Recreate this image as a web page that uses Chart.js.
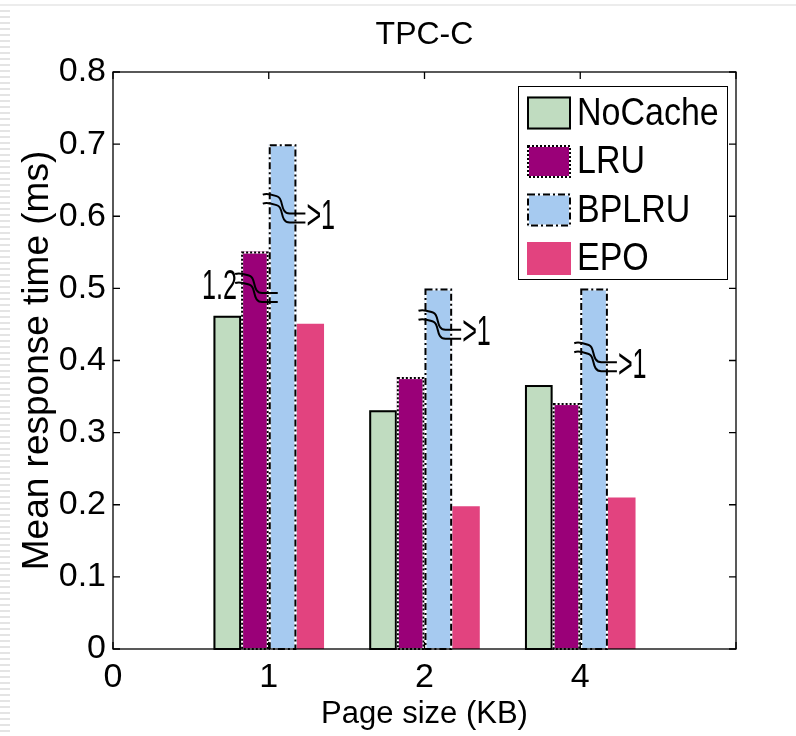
<!DOCTYPE html>
<html>
<head>
<meta charset="utf-8">
<title>TPC-C</title>
<script src="https://cdn.jsdelivr.net/npm/chart.js@4.4.0/dist/chart.umd.min.js"></script>
<style>
  html, body { margin: 0; padding: 0; background: #fff; }
  #wrap { position: relative; width: 796px; height: 736px; }
  #edge {
    position: absolute; left: 0; top: 0; width: 10px; height: 736px;
    background: repeating-linear-gradient(to bottom, #fff 0 4px, #e4e4e4 4px 6px);
  }
  #topline { position: absolute; left: 0; top: 4px; width: 796px; height: 2px; background: #ececec; }
  canvas { position: absolute; left: 0; top: 0; }
</style>
</head>
<body>
<div id="wrap">
  <div id="edge"></div>
  <div id="topline"></div>
  <canvas id="tpccChart" width="796" height="736"></canvas>
</div>
<script>
// x positions: 0 is an empty slot, the last label closes the axis
const pageSizes = ['0', '1', '2', '4', ''];

const noCache = [null, 0.462, 0.331, 0.366];
const lru     = [null, 0.551, 0.377, 0.341];
const bplru   = [null, 0.70, 0.50, 0.50];
const epo     = [null, 0.451, 0.198, 0.21];

const yTicks = [0, 0.1, 0.2, 0.3, 0.4, 0.5, 0.6, 0.7, 0.8];

// broken bars: which series / slot, where the break sits, and the true value
const breakDataset = [1, 2, 2, 2];
const breakIndex   = [1, 1, 2, 3];
const breakAt      = [0.52, 0.63, 0.469, 0.424];
const breakLabels  = ['1.2', '>1', '>1', '>1'];
const breakSide    = ['left', 'right', 'right', 'right'];

const FONT = "'Liberation Sans', Arial, Helvetica, sans-serif";

function hasValue(ds, j) {
  return ds.data[j] !== null && ds.data[j] !== undefined;
}

// dashed / dotted outlines that the bar element can't stroke itself
const outlinePlugin = {
  id: 'barOutlines',
  afterDatasetsDraw(chart) {
    const ctx = chart.ctx;
    ctx.save();
    chart.data.datasets.forEach((ds, i) => {
      if (!ds.outlineDash) return;
      chart.getDatasetMeta(i).data.forEach((bar, j) => {
        if (!hasValue(ds, j)) return;
        const left = bar.x - bar.width / 2;
        const w = bar.width, h = bar.base - bar.y;
        ctx.lineWidth = 2;
        if (ds.outlineDash.length) {
          ctx.setLineDash([]);
          ctx.strokeStyle = '#fff';
          ctx.strokeRect(left + 1, bar.y + 1, w - 2, h - 1);
        }
        ctx.setLineDash(ds.outlineDash);
        ctx.strokeStyle = '#000';
        ctx.strokeRect(left + 1, bar.y + 1, w - 2, h - 1);
      });
    });
    ctx.restore();
  }
};

// break marks across the truncated bars
const breakPlugin = {
  id: 'barBreaks',
  afterDatasetsDraw(chart) {
    const ctx = chart.ctx;
    const yScale = chart.scales.y;
    ctx.save();
    ctx.strokeStyle = '#000';
    ctx.lineWidth = 2;
    ctx.setLineDash([]);
    breakDataset.forEach((ds, k) => {
      const bar = chart.getDatasetMeta(ds).data[breakIndex[k]];
      const left = bar.x - bar.width / 2;
      const right = bar.x + bar.width / 2;
      const top = yScale.getPixelForValue(breakAt[k]);
      const dy = 19, xm = left + 13;
      [0, 9].forEach(off => {
        const y0 = top + off;
        ctx.beginPath();
        ctx.moveTo(left - 6, y0);
        ctx.bezierCurveTo(left, y0 - 2, xm - 8, y0 + 1, xm - 4, y0 + 2);
        ctx.bezierCurveTo(xm + 2, y0 + 4, xm - 2, y0 + dy, xm + 8, y0 + dy);
        ctx.lineTo(right + 9, y0 + dy);
        ctx.stroke();
      });
      ctx.save();
      ctx.fillStyle = '#000';
      ctx.font = '42px ' + FONT;
      ctx.textBaseline = 'middle';
      if (breakSide[k] === 'right') {
        ctx.translate(right + 10, top + 23);
        ctx.scale(0.6, 1);
        ctx.textAlign = 'left';
      } else {
        ctx.translate(left - 4, top + 13);
        ctx.scale(0.6, 1);
        ctx.textAlign = 'right';
      }
      ctx.fillText(breakLabels[k], 0, 0);
      ctx.restore();
    });
    ctx.restore();
  }
};

// box around the plot with inward ticks on all four sides, then the legend
const framePlugin = {
  id: 'frameAndLegend',
  afterDraw(chart) {
    const ctx = chart.ctx;
    const a = chart.chartArea;
    const xs = chart.scales.x, ys = chart.scales.y;
    const tl = 7;
    ctx.save();
    ctx.strokeStyle = '#000';
    ctx.lineWidth = 1.3;
    ctx.setLineDash([]);
    ctx.strokeRect(a.left, a.top, a.right - a.left, a.bottom - a.top);
    ctx.beginPath();
    ys.ticks.forEach(t => {
      const py = ys.getPixelForValue(t.value);
      ctx.moveTo(a.left, py); ctx.lineTo(a.left + tl, py);
      ctx.moveTo(a.right, py); ctx.lineTo(a.right - tl, py);
    });
    xs.ticks.forEach((t, i) => {
      const px = xs.getPixelForTick(i);
      ctx.moveTo(px, a.top); ctx.lineTo(px, a.top + tl);
      ctx.moveTo(px, a.bottom); ctx.lineTo(px, a.bottom - tl);
    });
    ctx.stroke();

    // legend
    const bx = 518, by = 86, bw = 209, bh = 193;
    ctx.fillStyle = '#fff';
    ctx.fillRect(bx, by, bw, bh);
    ctx.lineWidth = 1;
    ctx.strokeRect(bx + 0.5, by + 0.5, bw, bh);
    chart.data.datasets.forEach((ds, i) => {
      const cy = 113 + i * 48.5;
      const sx = 527, sw = 44, sh = 33;
      ctx.fillStyle = ds.backgroundColor;
      ctx.fillRect(sx, cy - sh / 2, sw, sh);
      if (ds.outlineDash) {
        ctx.lineWidth = 2;
        if (ds.outlineDash.length) {
          ctx.setLineDash([]);
          ctx.strokeStyle = '#fff';
          ctx.strokeRect(sx + 1, cy - sh / 2 + 1, sw - 2, sh - 2);
        }
        ctx.setLineDash(ds.outlineDash);
        ctx.strokeStyle = '#000';
        ctx.strokeRect(sx + 1, cy - sh / 2 + 1, sw - 2, sh - 2);
        ctx.setLineDash([]);
      }
      ctx.save();
      ctx.translate(577, cy + 1);
      ctx.scale(1, 1.12);
      ctx.fillStyle = '#000';
      ctx.font = '34px ' + FONT;
      ctx.textAlign = 'left';
      ctx.textBaseline = 'middle';
      ctx.fillText(ds.label, 0, 0);
      ctx.restore();
    });
    ctx.restore();
  }
};

const ctx = document.getElementById('tpccChart').getContext('2d');
const tpccChart = new Chart(ctx, {
  type: 'bar',
  data: {
    labels: pageSizes,
    datasets: [
      { label: 'NoCache', data: noCache, backgroundColor: '#c0dcc0', borderWidth: 0, outlineDash: [] },
      { label: 'LRU', data: lru, backgroundColor: '#9a0078', borderWidth: 0, outlineDash: [2, 2] },
      { label: 'BPLRU', data: bplru, backgroundColor: '#a6caf0', borderWidth: 0, outlineDash: [7, 3, 2, 3] },
      { label: 'EPO', data: epo, backgroundColor: '#e2437f', borderWidth: 0, outlineDash: null }
    ]
  },
  options: {
    responsive: false,
    animation: false,
    layout: { padding: { left: 0, right: 60, top: 0, bottom: 0 } },
    datasets: { bar: { categoryPercentage: 0.71, barPercentage: 1.0 } },
    plugins: {
      legend: { display: false },
      tooltip: { enabled: false },
      title: {
        display: true,
        fullSize: false,
        text: 'TPC-C',
        color: '#000',
        font: { family: FONT, size: 32, weight: 'normal' },
        padding: { top: 16, bottom: 17.6 }
      }
    },
    scales: {
      x: {
        type: 'category',
        offset: false,
        grid: { display: false, drawTicks: false, offset: false },
        border: { display: false },
        ticks: {
          color: '#000',
          font: { family: FONT, size: 34 },
          autoSkip: false,
          maxRotation: 0,
          padding: 8
        },
        title: {
          display: true,
          text: 'Page size (KB)',
          color: '#000',
          font: { family: FONT, size: 31 },
          padding: { top: 0, bottom: 3 }
        },
        afterFit(scale) { scale.height = 87; }
      },
      y: {
        min: 0,
        max: 0.8,
        afterBuildTicks(scale) { scale.ticks = yTicks.map(v => ({ value: v })); },
        grid: { display: false, drawTicks: false },
        border: { display: false },
        ticks: {
          color: '#000',
          font: { family: FONT, size: 34 },
          padding: 7,
          callback: v => (v === 0 ? '0' : v.toFixed(1))
        },
        title: {
          display: true,
          text: 'Mean response time (ms)',
          color: '#000',
          font: { family: FONT, size: 37 },
          padding: { top: 16, bottom: 0 }
        },
        afterFit(scale) { scale.width = 113; }
      }
    }
  },
  plugins: [outlinePlugin, breakPlugin, framePlugin]
});
</script>
</body>
</html>
